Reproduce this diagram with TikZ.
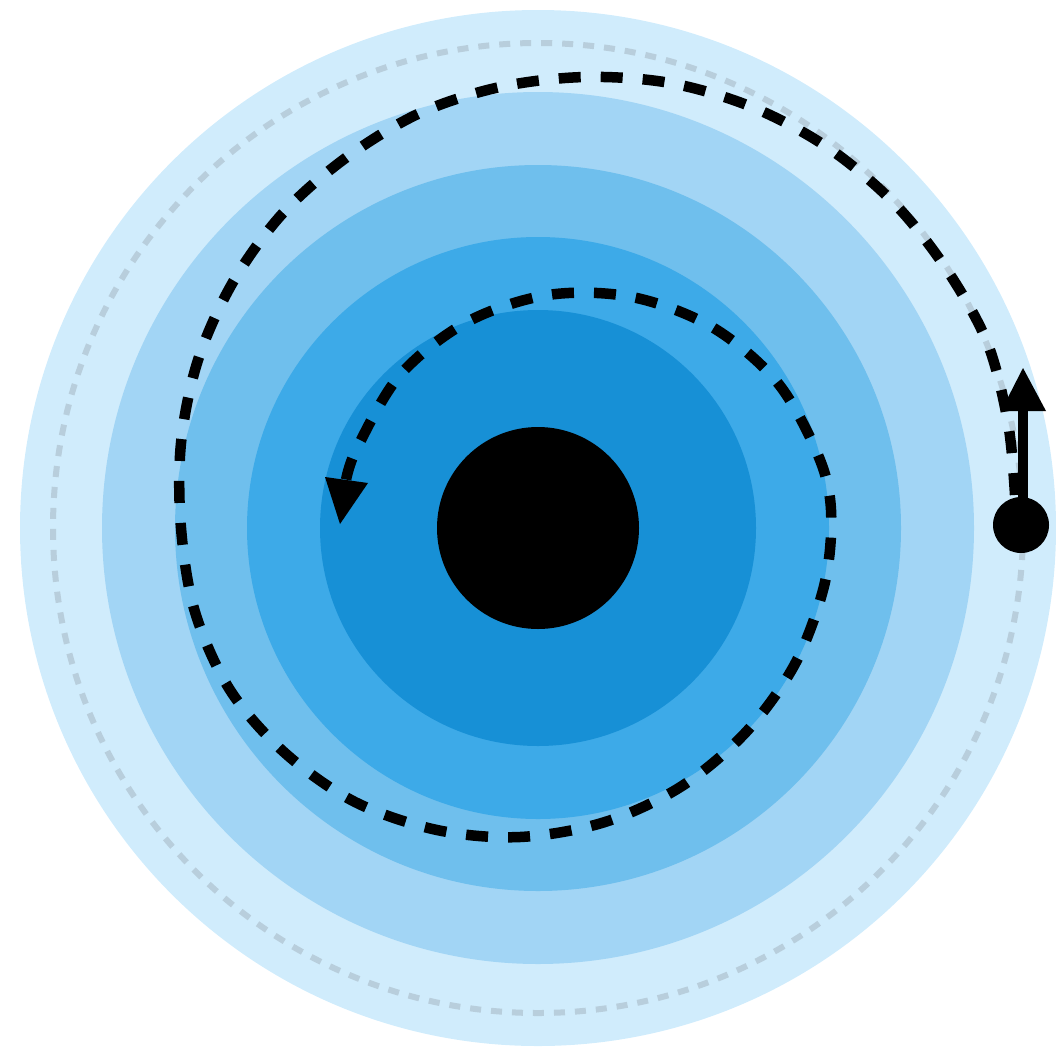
\documentclass[tikz,border=0pt]{standalone}
\usetikzlibrary{calc}
\definecolor{ringA}{HTML}{D0ECFC}
\definecolor{ringB}{HTML}{A2D5F5}
\definecolor{ringC}{HTML}{6FBFED}
\definecolor{ringD}{HTML}{3DAAE8}
\definecolor{ringE}{HTML}{1790D6}
\definecolor{orbitgray}{HTML}{B8CEDC}
\tikzset{
  ring/.style={fill=#1, draw=none},
  orbitline/.style={draw=orbitgray, line width=6pt, dash pattern=on 11pt off 10pt},
  pathline/.style={draw=black, line width=10.5pt, dash pattern=on 22pt off 20pt},
  tiptri/.style={fill=black, draw=none},
}
\begin{document}
\begin{tikzpicture}[x=1pt, y=-1pt]
\useasboundingbox (0,0) rectangle (1056,1052);
\coordinate (c) at (538,528);
\fill[ring=ringA] (c) circle (518);
\fill[ring=ringB] (c) circle (436);
\fill[ring=ringC] (c) circle (363);
\fill[ring=ringD] (c) circle (291);
\fill[ring=ringE] (c) circle (218);
\draw[orbitline] (c) circle (485);
\node[circle, fill=black, minimum size=202pt, inner sep=0pt] (core) at (c) {};
% spiral path
\draw[pathline] plot[smooth, tension=0.55] coordinates {
 (1015,495) (1008,423) (987,342) (945,267) (893,202) (827,147) (752,107)
 (670,83) (585,77) (500,87) (420,113) (347,157) (283,213) (233,282)
 (198,360) (181,443) (181,528) (195,612) (230,690) (285,753) (355,802)
 (437,830) (520,837) (605,822) (682,786) (747,731) (796,662) (825,582)
 (831,510) (818,455) (777,382) (712,327) (632,297) (548,295) (467,322)
 (400,375) (357,448) (346,480)};
\fill[tiptri] (325,477) -- (368,483) -- (340,524) -- cycle;
% particle with velocity arrow
\coordinate (tipR) at (1023,368);
\node[circle, fill=black, minimum size=56pt, inner sep=0pt] (dot) at (1021,525) {};
\draw[line width=10pt] (1023,525) -- (1023,405);
\fill[tiptri] (1001,411) -- (1046,411) -- (tipR) -- cycle;
\end{tikzpicture}
\end{document}
